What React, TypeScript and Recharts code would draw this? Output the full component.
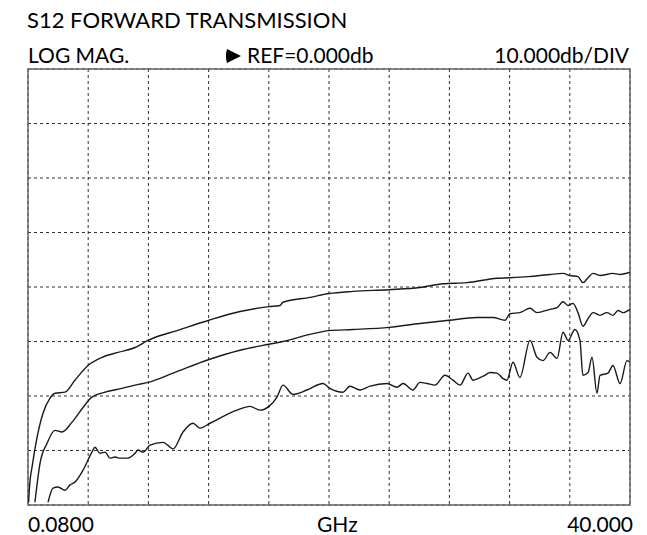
import { LineChart, Line, XAxis, YAxis, CartesianGrid, ReferenceArea } from 'recharts';

// trace values (GHz, dB)
const upperTrace = [
  { ghz: 0.12, db: -79.5 }, { ghz: 0.2, db: -76.0 }, { ghz: 0.35, db: -73.0 }, { ghz: 0.68, db: -67.6 },
  { ghz: 1.07, db: -63.2 }, { ghz: 1.54, db: -60.4 }, { ghz: 1.87, db: -59.5 }, { ghz: 2.53, db: -59.3 },
  { ghz: 3.19, db: -57.1 }, { ghz: 4.06, db: -54.4 }, { ghz: 4.99, db: -52.9 }, { ghz: 6.05, db: -52.0 },
  { ghz: 7.18, db: -51.1 }, { ghz: 8.04, db: -49.8 }, { ghz: 8.37, db: -49.4 }, { ghz: 9.96, db: -48.0 },
  { ghz: 12.08, db: -46.1 }, { ghz: 14.14, db: -44.5 }, { ghz: 16.06, db: -43.6 }, { ghz: 16.79, db: -43.4 },
  { ghz: 16.99, db: -42.8 }, { ghz: 18.78, db: -41.9 }, { ghz: 20.04, db: -41.2 }, { ghz: 21.63, db: -40.8 },
  { ghz: 24.02, db: -40.5 }, { ghz: 26.07, db: -40.1 }, { ghz: 27.6, db: -39.4 }, { ghz: 29.19, db: -39.2 },
  { ghz: 31.18, db: -38.4 }, { ghz: 32.04, db: -38.3 }, { ghz: 33.25, db: -38.1 }, { ghz: 34.03, db: -37.9 },
  { ghz: 34.7, db: -37.7 }, { ghz: 35.56, db: -37.5 }, { ghz: 36.02, db: -37.9 }, { ghz: 36.55, db: -38.1 },
  { ghz: 36.88, db: -39.2 }, { ghz: 37.22, db: -38.3 }, { ghz: 37.55, db: -37.5 }, { ghz: 38.01, db: -37.9 },
  { ghz: 38.87, db: -37.5 }, { ghz: 39.34, db: -37.7 }, { ghz: 40.0, db: -37.3 },
];

const middleTrace = [
  { ghz: 0.54, db: -79.5 }, { ghz: 0.88, db: -72.3 }, { ghz: 1.34, db: -68.7 }, { ghz: 1.87, db: -66.3 },
  { ghz: 2.33, db: -66.6 }, { ghz: 3.0, db: -64.8 }, { ghz: 3.73, db: -62.1 }, { ghz: 4.32, db: -60.2 },
  { ghz: 5.19, db: -59.3 }, { ghz: 6.31, db: -58.6 }, { ghz: 7.18, db: -58.0 }, { ghz: 8.04, db: -57.5 },
  { ghz: 9.7, db: -55.8 }, { ghz: 12.08, db: -53.3 }, { ghz: 14.14, db: -51.6 }, { ghz: 16.06, db: -50.5 },
  { ghz: 16.99, db: -50.0 }, { ghz: 18.78, db: -48.7 }, { ghz: 20.04, db: -48.0 }, { ghz: 21.63, db: -47.8 },
  { ghz: 24.02, db: -47.4 }, { ghz: 26.07, db: -46.7 }, { ghz: 28.0, db: -46.1 }, { ghz: 29.85, db: -45.6 },
  { ghz: 30.92, db: -45.6 }, { ghz: 31.71, db: -46.1 }, { ghz: 32.04, db: -44.9 }, { ghz: 32.7, db: -44.7 },
  { ghz: 33.37, db: -43.9 }, { ghz: 33.83, db: -44.7 }, { ghz: 34.7, db: -44.1 }, { ghz: 35.16, db: -43.8 },
  { ghz: 35.56, db: -42.7 }, { ghz: 35.89, db: -43.4 }, { ghz: 36.22, db: -43.0 }, { ghz: 36.55, db: -44.7 },
  { ghz: 36.88, db: -47.2 }, { ghz: 37.22, db: -45.8 }, { ghz: 37.55, db: -44.7 }, { ghz: 38.01, db: -45.2 },
  { ghz: 38.47, db: -44.7 }, { ghz: 38.87, db: -45.2 }, { ghz: 39.21, db: -44.3 }, { ghz: 39.54, db: -44.7 },
  { ghz: 40.0, db: -44.1 },
];

const lowerTrace = [
  { ghz: 1.41, db: -79.5 }, { ghz: 1.74, db: -76.9 }, { ghz: 2.07, db: -76.7 }, { ghz: 2.53, db: -77.3 },
  { ghz: 2.87, db: -76.3 }, { ghz: 3.19, db: -75.8 }, { ghz: 3.73, db: -73.6 }, { ghz: 4.32, db: -70.3 },
  { ghz: 4.52, db: -69.4 }, { ghz: 4.85, db: -70.5 }, { ghz: 5.19, db: -70.3 }, { ghz: 5.52, db: -71.4 },
  { ghz: 5.85, db: -71.2 }, { ghz: 6.18, db: -71.4 }, { ghz: 6.71, db: -71.4 }, { ghz: 7.18, db: -70.5 },
  { ghz: 7.37, db: -69.9 }, { ghz: 7.71, db: -70.3 }, { ghz: 8.17, db: -69.0 }, { ghz: 9.03, db: -68.5 },
  { ghz: 9.7, db: -69.7 }, { ghz: 10.36, db: -66.6 }, { ghz: 11.02, db: -65.0 }, { ghz: 11.49, db: -65.9 },
  { ghz: 12.15, db: -65.0 }, { ghz: 13.94, db: -62.6 }, { ghz: 14.8, db: -61.9 }, { ghz: 15.46, db: -62.6 },
  { ghz: 16.06, db: -61.9 }, { ghz: 16.59, db: -60.2 }, { ghz: 16.99, db: -58.0 }, { ghz: 17.65, db: -59.7 },
  { ghz: 18.58, db: -58.9 }, { ghz: 19.64, db: -57.7 }, { ghz: 20.1, db: -58.6 }, { ghz: 20.97, db: -59.3 },
  { ghz: 21.43, db: -58.2 }, { ghz: 22.1, db: -58.9 }, { ghz: 22.76, db: -58.2 }, { ghz: 23.89, db: -57.7 },
  { ghz: 24.55, db: -58.4 }, { ghz: 24.95, db: -57.7 }, { ghz: 25.61, db: -58.9 }, { ghz: 26.07, db: -57.5 },
  { ghz: 26.54, db: -57.7 }, { ghz: 27.07, db: -58.0 }, { ghz: 27.73, db: -56.2 }, { ghz: 28.26, db: -57.1 },
  { ghz: 28.73, db: -58.0 }, { ghz: 29.26, db: -55.8 }, { ghz: 29.59, db: -57.1 }, { ghz: 29.92, db: -56.8 },
  { ghz: 30.38, db: -56.2 }, { ghz: 30.72, db: -55.7 }, { ghz: 31.18, db: -55.8 }, { ghz: 31.58, db: -56.8 },
  { ghz: 31.84, db: -57.1 }, { ghz: 32.24, db: -53.8 }, { ghz: 32.7, db: -56.6 }, { ghz: 33.37, db: -49.8 },
  { ghz: 33.83, db: -52.9 }, { ghz: 34.23, db: -53.5 }, { ghz: 34.7, db: -52.0 }, { ghz: 35.16, db: -53.1 },
  { ghz: 35.56, db: -48.3 }, { ghz: 35.89, db: -49.8 }, { ghz: 36.35, db: -47.8 }, { ghz: 36.68, db: -49.8 },
  { ghz: 36.88, db: -56.2 }, { ghz: 37.22, db: -55.7 }, { ghz: 37.48, db: -52.9 }, { ghz: 37.81, db: -59.5 },
  { ghz: 38.01, db: -56.2 }, { ghz: 38.54, db: -55.8 }, { ghz: 38.87, db: -54.4 }, { ghz: 39.34, db: -57.7 },
  { ghz: 39.8, db: -53.5 }, { ghz: 40.0, db: -53.8 },
];

// 10 divisions across 0.08 – 40 GHz, 8 divisions of 10 dB down from REF
const freqDivisions = [0.08, 4.072, 8.064, 12.056, 16.048, 20.04, 24.032, 28.024, 32.016, 36.008, 40];
const dbDivisions = [-80, -70, -60, -50, -40, -30, -20, -10, 0];

const traces = [upperTrace, middleTrace, lowerTrace];

const textStyle = { position: 'absolute' as const, fontSize: 21, lineHeight: '21px', color: '#000', whiteSpace: 'nowrap' as const };

const RefMarker = (props: any) => {
  const { cx, cy } = props;
  return <polygon points={`${cx - 13},${cy - 6} ${cx - 1},${cy} ${cx - 13},${cy + 6}`} fill="#fff" stroke="#666" strokeWidth={1.2} />;
};

export default function App() {
  return (
    <div style={{ position: 'absolute', left: 0, top: 0, width: 647, height: 535, background: '#fff', fontFamily: 'Lato, sans-serif' }}>
      <div style={{ ...textStyle, left: 27, top: 9, fontSize: 22 }}>S12 FORWARD TRANSMISSION</div>
      <div style={{ ...textStyle, left: 28, top: 44 }}>LOG MAG.</div>
      <svg style={{ position: 'absolute', left: 225, top: 48 }} width={20} height={16}>
        <path d="M2,1 L16,8 L2,15 Q0,8 2,1 Z" fill="#000" />
      </svg>
      <div style={{ ...textStyle, left: 247, top: 44 }}>REF=0.000db</div>
      <div style={{ ...textStyle, left: 0, top: 44, width: 629, textAlign: 'right' }}>10.000db/DIV</div>
      <div style={{ ...textStyle, left: 28, top: 513 }}>0.0800</div>
      <div style={{ ...textStyle, left: 317, top: 513 }}>GHz</div>
      <div style={{ ...textStyle, left: 0, top: 513, width: 633, textAlign: 'right' }}>40.000</div>

      <LineChart width={647} height={535} margin={{ top: 69, right: 17, bottom: 30, left: 28 }} style={{ position: 'absolute', left: 0, top: 0 }}>
        <XAxis type="number" dataKey="ghz" domain={[0.08, 40]} ticks={freqDivisions} allowDataOverflow hide />
        <YAxis type="number" dataKey="db" domain={[-80, 0]} ticks={dbDivisions} allowDataOverflow hide />
        <CartesianGrid stroke="#333" strokeDasharray="3 3" />
        {traces.map((t, i) => (
          <Line key={i} data={t} dataKey="db" type="monotone" stroke="#1a1a1a" strokeWidth={1.4} dot={false} isAnimationActive={false} />
        ))}
        <ReferenceArea x1={0.08} x2={40} y1={-80} y2={0} fill="none" stroke="#666" strokeWidth={1.5} ifOverflow="visible" />
        <ReferenceArea x1={0.08} x2={0.08} y1={0} y2={0} shape={RefMarker} ifOverflow="visible" />
      </LineChart>
    </div>
  );
}
